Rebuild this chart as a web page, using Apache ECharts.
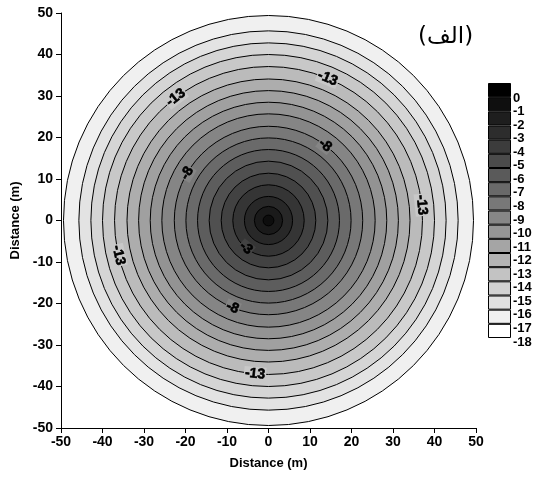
<!DOCTYPE html>
<html>
<head>
<meta charset="utf-8">
<script src="https://cdn.jsdelivr.net/npm/echarts@6/dist/echarts.min.js"></script>
<style>html,body{margin:0;padding:0;background:#fff}#c{width:545px;height:478px}</style>
</head>
<body>
<div id="c"></div>
<script>
// ---- data ----
const contourValues = [0, -1, -2, -3, -4, -5, -6, -7, -8, -9, -10, -11, -12, -13, -14, -15, -16];
const contourRadii  = [1.3, 3.4, 5.8, 8.6, 11.4, 14.3, 17.1, 19.9, 22.7, 25.7, 28.5, 31.3, 34.1, 37.1, 40.0, 42.8, 45.7];
const domainRadius = 49.4;
const legendLabels = ['0','-1','-2','-3','-4','-5','-6','-7','-8','-9','-10','-11','-12','-13','-14','-15','-16','-17','-18'];
const legendBoxes = [0,1,2,3,4,5,6,7,8,9,10,11,12,13,14,15,16,17];
const contourLabels = [
  [-13, 127], [-13, 67.4], [-13, 5.8], [-13, 193], [-13, 265],
  [-8, 149.8], [-8, 53], [-8, 247.5],
  [-3, 230.7]
];
const axisTicks = [-50, -40, -30, -20, -10, 0, 10, 20, 30, 40, 50];

// ---- styles ----
function bandGray(n) { const g = Math.round(13 + 13.35 * n); return 'rgb(' + g + ',' + g + ',' + g + ')'; }
function legendGray(k) { const g = Math.min(255, Math.round(15 * k)); return 'rgb(' + g + ',' + g + ',' + g + ')'; }
const FONT = 'Arial, "Liberation Sans", sans-serif';

const ringData = [[domainRadius, contourValues.length]];
for (let i = contourRadii.length - 1; i >= 0; i--) ringData.push([contourRadii[i], i]);

const chart = echarts.init(document.getElementById('c'), null, {renderer: 'canvas'});
const axLabel = {color: '#000', fontWeight: 'bold', fontSize: 14, fontFamily: FONT};
chart.setOption({
  animation: false,
  backgroundColor: '#fff',
  title: {
    text: '(الف)', left: 413, top: 21,
    textStyle: {fontFamily: '"DejaVu Sans", serif', fontWeight: 'normal', fontSize: 23, color: '#000'}
  },
  grid: [
    {left: 61, top: 13, width: 415, height: 415},
    {left: 488, top: 83, width: 23, height: 255},
    {left: 488, top: 98, width: 23, height: 244}
  ],
  xAxis: [
    {gridIndex: 0, type: 'value', min: axisTicks[0], max: axisTicks[axisTicks.length - 1], interval: 10,
     name: 'Distance (m)', nameLocation: 'middle', nameGap: 29,
     nameTextStyle: {color: '#000', fontWeight: 'bold', fontSize: 13, fontFamily: FONT},
     axisLine: {onZero: false, lineStyle: {color: '#000', width: 1}},
     axisTick: {show: true, length: 5, lineStyle: {color: '#000'}},
     axisLabel: Object.assign({margin: 7}, axLabel),
     splitLine: {show: false}},
    {gridIndex: 1, type: 'value', min: 0, max: 1, show: false},
    {gridIndex: 2, type: 'value', min: 0, max: 1, show: false}
  ],
  yAxis: [
    {gridIndex: 0, type: 'value', min: axisTicks[0], max: axisTicks[axisTicks.length - 1], interval: 10,
     name: 'Distance (m)', nameLocation: 'middle', nameGap: 34,
     nameTextStyle: {color: '#000', fontWeight: 'bold', fontSize: 13, fontFamily: FONT},
     axisLine: {onZero: false, lineStyle: {color: '#000', width: 1}},
     axisTick: {show: true, length: 5, lineStyle: {color: '#000'}},
     axisLabel: Object.assign({margin: 8}, axLabel),
     splitLine: {show: false}},
    {gridIndex: 1, type: 'category', inverse: true, data: legendBoxes.map(String), show: false},
    {gridIndex: 2, type: 'value', min: -18, max: 0, interval: 1, position: 'right',
     axisLine: {show: false}, axisTick: {show: false}, splitLine: {show: false},
     axisLabel: Object.assign({}, axLabel, {margin: 2, fontSize: 13, hideOverlap: false,
       showMinLabel: true, showMaxLabel: true, interval: 0, formatter: v => legendLabels[Math.round(-v)]})}
  ],
  series: [
    {
      type: 'custom', coordinateSystem: 'cartesian2d', xAxisIndex: 0, yAxisIndex: 0,
      data: ringData, clip: false, silent: true,
      renderItem: function (params, api) {
        const r = api.value(0), band = api.value(1);
        const c = api.coord([0, 0]);
        const rp = api.size([r, 0])[0];
        return {type: 'circle', shape: {cx: c[0], cy: c[1], r: rp},
                style: {fill: bandGray(band), stroke: '#000', lineWidth: 1}};
      }
    },
    {
      type: 'custom', coordinateSystem: 'cartesian2d', xAxisIndex: 0, yAxisIndex: 0,
      data: contourLabels, clip: false, silent: true, z: 5,
      renderItem: function (params, api) {
        const v = api.value(0), ang = api.value(1);
        const idx = contourValues.indexOf(v);
        const r = contourRadii[idx];
        const th = ang * Math.PI / 180;
        const p = api.coord([r * Math.cos(th), r * Math.sin(th)]);
        let rot = ang - 90;
        while (rot > 90) rot -= 180;
        while (rot <= -90) rot += 180;
        return {type: 'text', x: p[0], y: p[1], rotation: rot * Math.PI / 180,
                style: {text: String(v), fill: '#000', fontWeight: 700, fontSize: 14, fontFamily: FONT,
                        stroke: '#000', lineWidth: 0.6,
                        align: 'center', verticalAlign: 'middle',
                        backgroundColor: bandGray(idx + 1), padding: [0, 1]}};
      }
    },
    {
      type: 'bar', xAxisIndex: 1, yAxisIndex: 1, barWidth: '100%', silent: true,
      data: legendBoxes.map(k => ({value: 1, itemStyle: {color: legendGray(k)}})),
      itemStyle: {borderColor: '#000', borderWidth: 1}
    }
  ]
});
</script>
</body>
</html>
